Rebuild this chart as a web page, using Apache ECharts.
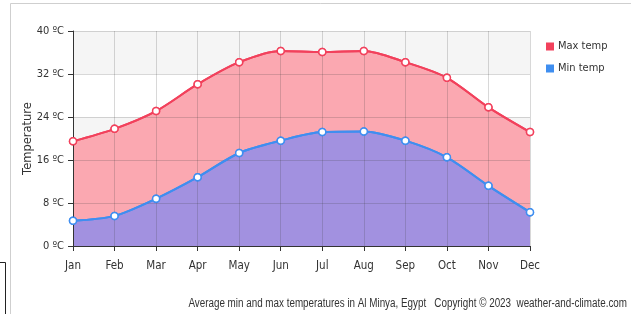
<!DOCTYPE html>
<html>
<head>
<meta charset="utf-8">
<script src="https://cdn.jsdelivr.net/npm/echarts@6/dist/echarts.min.js"></script>
<style>
  html, body { margin: 0; padding: 0; background: #fff; }
  #chart { width: 631px; height: 314px; }
</style>
</head>
<body>
<div id="chart"></div>
<script>
const months = ['Jan', 'Feb', 'Mar', 'Apr', 'May', 'Jun', 'Jul', 'Aug', 'Sep', 'Oct', 'Nov', 'Dec']
const maxTemp = [19.5, 21.8, 25.1, 30.1, 34.2, 36.3, 36.1, 36.3, 34.2, 31.3, 25.8, 21.2]
const minTemp = [4.7, 5.6, 8.8, 12.8, 17.3, 19.6, 21.2, 21.3, 19.6, 16.5, 11.2, 6.3]
const yTicks = [0, 8, 16, 24, 32, 40]

const font = '"DejaVu Sans Condensed", "Liberation Sans", Arial, sans-serif'

const chart = echarts.init(document.getElementById('chart'))

// hidden axis used only for grid lines / bands
const plainY = (extra) => Object.assign({
    type: 'value', min: 0, max: 40, interval: 8, position: 'left',
    axisLine: { show: false }, axisTick: { show: false }, axisLabel: { show: false },
    splitLine: { show: false }
}, extra)

chart.setOption({
    animation: false,
    textStyle: { fontFamily: font },
    grid: { left: 73, right: 101, top: 31, bottom: 68 },
    legend: {
        orient: 'vertical',
        left: 541,
        top: 36,
        itemWidth: 6,
        itemHeight: 6,
        itemGap: 11,
        icon: 'rect',
        textStyle: { fontSize: 11, color: '#333', fontFamily: font },
        data: ['Max temp', 'Min temp']
    },
    xAxis: [
        {
            type: 'category',
            data: months,
            boundaryGap: false,
            axisLine: { lineStyle: { color: '#333' } },
            axisTick: { alignWithLabel: true, length: 5, lineStyle: { color: '#333' } },
            axisLabel: { color: '#333', fontSize: 11.5, margin: 14 },
            splitLine: { show: false },
            z: 6
        },
        {
            type: 'category',
            data: months,
            boundaryGap: false,
            position: 'bottom',
            axisLine: { show: false },
            axisTick: { show: false },
            axisLabel: { show: false },
            splitLine: { show: true, lineStyle: { color: 'rgba(60,60,60,0.2)', width: 1 } },
            z: 5
        }
    ],
    yAxis: [
        {
            type: 'value',
            min: 0,
            max: 40,
            interval: 8,
            name: 'Temperature',
            nameLocation: 'middle',
            nameGap: 39,
            nameMoveOverlap: false,
            nameTextStyle: { color: '#333', fontSize: 11.5, fontFamily: 'DejaVu Sans' },
            axisLine: { show: true, lineStyle: { color: '#333' } },
            axisTick: { show: true, length: 5, lineStyle: { color: '#333' } },
            axisLabel: {
                color: '#333',
                fontSize: 11,
                margin: 9,
                formatter: v => yTicks.includes(v) ? v + ' ºC' : ''
            },
            splitLine: { show: false },
            z: 6
        },
        plainY({ splitLine: { show: true, lineStyle: { color: 'rgba(60,60,60,0.2)', width: 1 } }, z: 5 }),
        plainY({ splitArea: { show: true, areaStyle: { color: ['#f5f5f5', '#ffffff'] } }, z: 0 })
    ],
    series: [
        {
            name: 'Max temp',
            type: 'line',
            data: maxTemp,
            smooth: 0.3,
            symbol: 'circle',
            symbolSize: 7,
            itemStyle: { color: '#f2415c', borderColor: '#f2415c', borderWidth: 1.5 },
            lineStyle: { color: '#f2415c', width: 2 },
            areaStyle: { color: '#fba8b1', opacity: 1 },
            z: 2
        },
        {
            name: 'Min temp',
            type: 'line',
            data: minTemp,
            smooth: 0.3,
            symbol: 'circle',
            symbolSize: 7,
            itemStyle: { color: '#3f8ef0', borderColor: '#3f8ef0', borderWidth: 1.5 },
            lineStyle: { color: '#3f8ef0', width: 2 },
            areaStyle: { color: '#a291e0', opacity: 1 },
            z: 3
        },
        {
            name: 'Max temp',
            type: 'line',
            data: maxTemp,
            smooth: 0.3,
            symbol: 'circle',
            symbolSize: 7,
            itemStyle: { color: '#ffffff', borderColor: '#f2415c', borderWidth: 1.5 },
            lineStyle: { color: '#f2415c', width: 2 },
            z: 8
        },
        {
            name: 'Min temp',
            type: 'line',
            data: minTemp,
            smooth: 0.3,
            symbol: 'circle',
            symbolSize: 7,
            itemStyle: { color: '#ffffff', borderColor: '#3f8ef0', borderWidth: 1.5 },
            lineStyle: { color: '#3f8ef0', width: 2 },
            z: 8
        }
    ],
    graphic: [
        // outer frame
        { type: 'line', shape: { x1: 10.5, y1: 3.5, x2: 631, y2: 3.5 }, style: { stroke: '#cfcfcf', lineWidth: 1 } },
        { type: 'line', shape: { x1: 10.5, y1: 3.5, x2: 10.5, y2: 314 }, style: { stroke: '#cfcfcf', lineWidth: 1 } },
        { type: 'rect', shape: { x: -5, y: 262.5, width: 10.5, height: 60 }, style: { fill: 'none', stroke: '#222', lineWidth: 1 } },
        {
            type: 'text',
            x: 627,
            y: 304,
            scaleX: 0.82,
            style: {
                text: 'Average min and max temperatures in Al Minya, Egypt   Copyright © 2023  weather-and-climate.com',
                fill: '#333',
                font: '12px "Liberation Sans", Arial, sans-serif',
                align: 'right',
                verticalAlign: 'middle'
            }
        }
    ]
})
</script>
</body>
</html>
